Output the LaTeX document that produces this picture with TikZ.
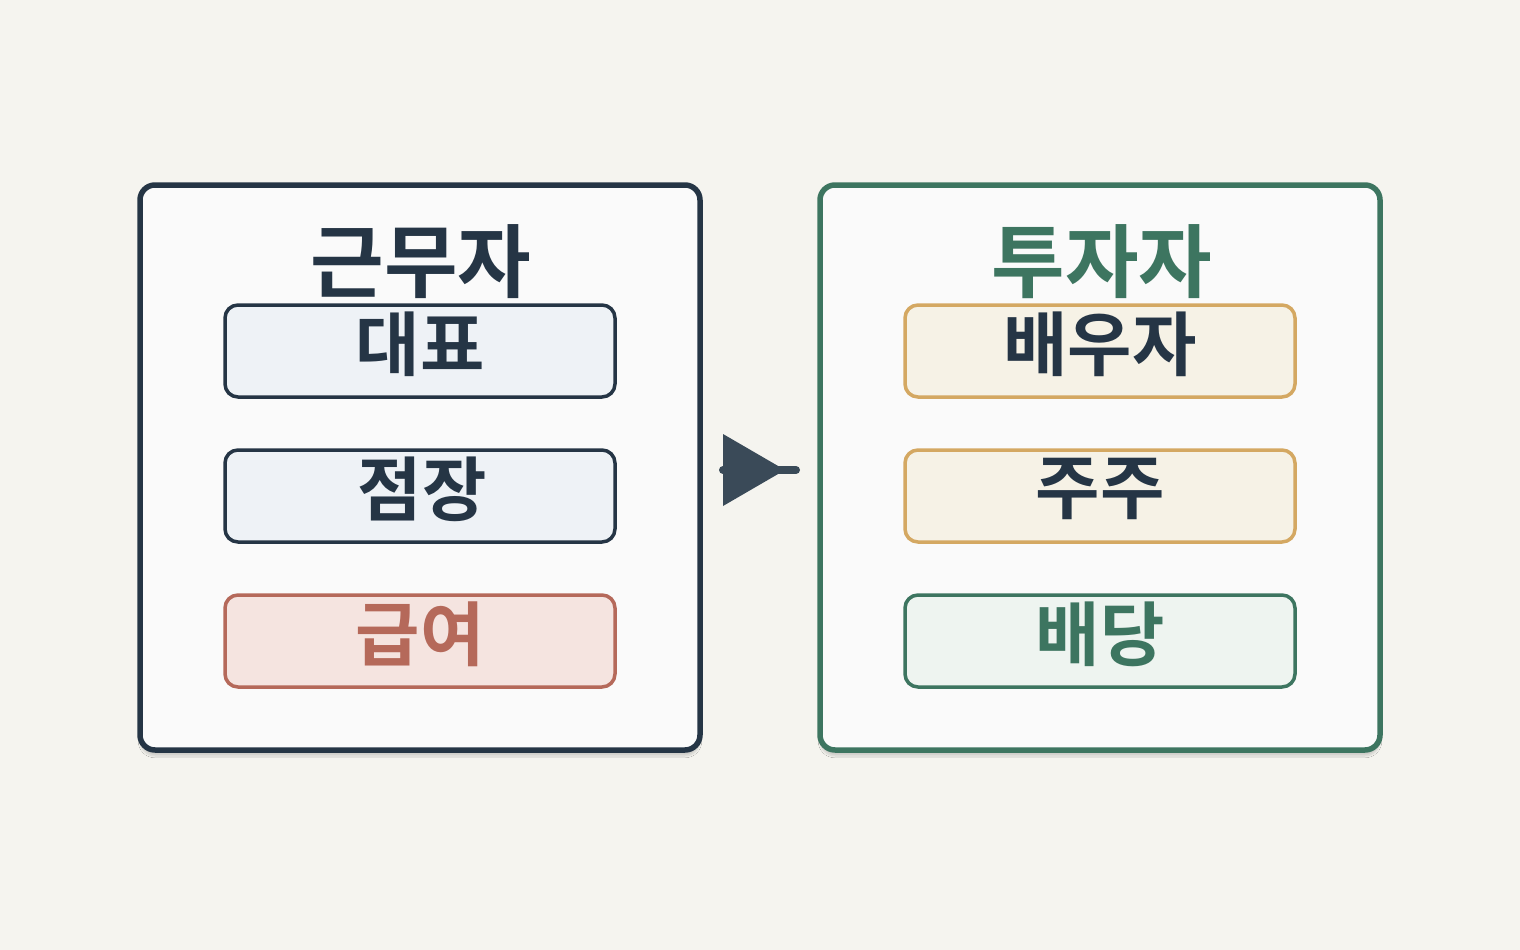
\documentclass[tikz,border=0pt]{standalone}
\usepackage{fontspec}
\newfontfamily\kr{Noto Sans CJK KR Medium}[BoldFont={Noto Sans CJK KR Bold}]
\usetikzlibrary{shadows.blur}
\definecolor{bg}{HTML}{F5F4EF}
\definecolor{dark}{HTML}{253545}
\definecolor{grn}{HTML}{3D7560}
\definecolor{cred}{HTML}{B5695A}
\definecolor{yel}{HTML}{D4A862}
\definecolor{arr}{HTML}{3A4A58}
\definecolor{panel}{HTML}{FAFAFA}
\definecolor{fblue}{HTML}{EEF2F6}
\definecolor{fred}{HTML}{F5E4E0}
\definecolor{fyel}{HTML}{F6F2E6}
\definecolor{fgrn}{HTML}{EEF4F0}
\begin{document}
\begin{tikzpicture}[x=1pt,y=-1pt,
 big/.style={draw,line width=5.5pt,rounded corners=15pt,fill=panel,blur shadow={shadow blur steps=8,shadow xshift=0pt,shadow yshift=-6pt,shadow opacity=15}},
 sub/.style={draw,line width=3.5pt,rounded corners=13pt,minimum width=390pt,minimum height=92pt,inner sep=0pt},
 ttl/.style={font=\kr\bfseries\fontsize{80}{80}\selectfont},
 lbl/.style={font=\kr\bfseries\fontsize{70}{70}\selectfont}]
\fill[bg] (0,0) rectangle (1520,950);
\draw[big,draw=dark] (140,185) rectangle (700,750);
\draw[big,draw=grn] (820,185) rectangle (1380,750);
\node[ttl,text=dark] (t1) at (421,262) {근무자};
\node[ttl,text=grn] (t2) at (1102,262) {투자자};
\node[sub,draw=dark,fill=fblue] (a1) at (420,351) {};
\node[lbl,text=dark] at (420,344) {대표};
\node[sub,draw=dark,fill=fblue] (a2) at (420,496) {};
\node[lbl,text=dark] at (422,489) {점장};
\node[sub,draw=cred,fill=fred] (a3) at (420,641) {};
\node[lbl,text=cred] at (420,634) {급여};
\node[sub,draw=yel,fill=fyel] (b1) at (1100,351) {};
\node[lbl,text=dark] at (1100,344) {배우자};
\node[sub,draw=yel,fill=fyel] (b2) at (1100,496) {};
\node[lbl,text=dark] at (1100,489) {주주};
\node[sub,draw=grn,fill=fgrn] (b3) at (1100,641) {};
\node[lbl,text=grn] at (1100,634) {배당};
\coordinate (p) at (723,470);
\coordinate (q) at (796,470);
\draw[arr,line width=8pt,line cap=round] (p) -- (q);
\fill[arr] (723,434) -- (785,470) -- (723,506) -- cycle;
\end{tikzpicture}
\end{document}
